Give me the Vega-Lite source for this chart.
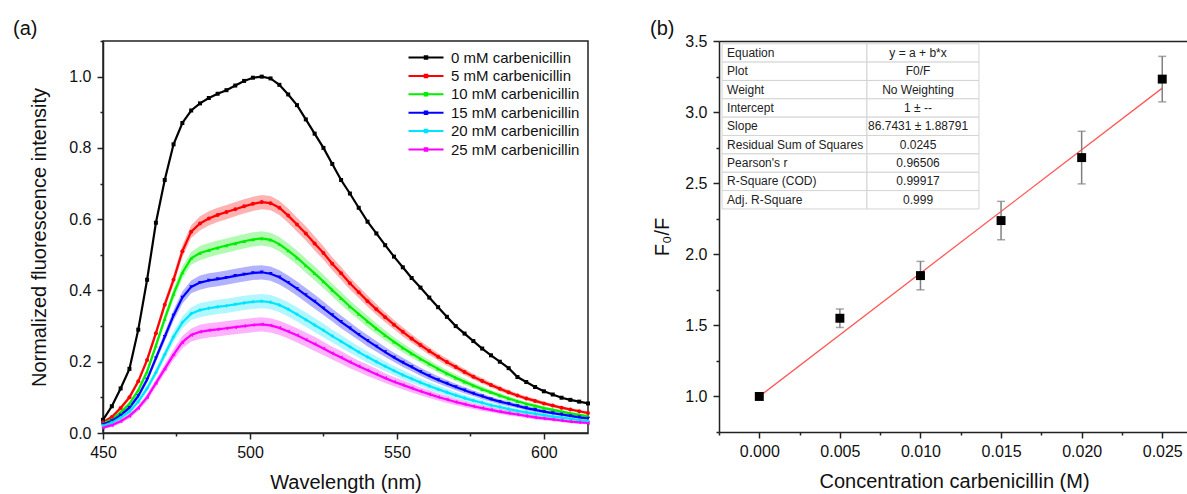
{
  "$schema": "https://vega.github.io/schema/vega-lite/v6.json",
  "padding": {"left": 12, "top": 18, "right": 0, "bottom": 0},
  "background": "white",
  "spacing": 56,
  "config": {
    "font": "Liberation Sans",
    "axis": {"domainColor": "#222", "domainWidth": 1.5, "tickColor": "#222", "tickWidth": 1.5, "labelFontSize": 16, "labelColor": "#111", "titleFontSize": 20, "titleFontWeight": "normal", "titleColor": "#111", "grid": false, "labelFlush": false, "labelOverlap": false, "labelPadding": 6},
    "title": {"fontSize": 20, "fontWeight": "normal", "color": "#111"}
  },
  "hconcat": [
    {
      "title": {"text": "(a)", "anchor": "start", "frame": "group", "dx": -90, "offset": -6},
      "width": 485,
      "height": 392,
      "view": {"stroke": "#222", "strokeWidth": 1.5},
      "data": {"values": [
        {"w":450,"a0":0.037,"a5":0.030,"a10":0.027,"a15":0.024,"a20":0.020,"a25":0.015,"e":0.004},
        {"w":453,"a0":0.075,"a5":0.045,"a10":0.038,"a15":0.034,"a20":0.029,"a25":0.022,"e":0.005},
        {"w":456,"a0":0.125,"a5":0.070,"a10":0.058,"a15":0.050,"a20":0.043,"a25":0.033,"e":0.006},
        {"w":459,"a0":0.180,"a5":0.100,"a10":0.082,"a15":0.071,"a20":0.060,"a25":0.048,"e":0.007},
        {"w":462,"a0":0.290,"a5":0.145,"a10":0.120,"a15":0.104,"a20":0.088,"a25":0.070,"e":0.008},
        {"w":465,"a0":0.430,"a5":0.205,"a10":0.172,"a15":0.150,"a20":0.125,"a25":0.100,"e":0.010},
        {"w":468,"a0":0.590,"a5":0.280,"a10":0.245,"a15":0.210,"a20":0.170,"a25":0.140,"e":0.011},
        {"w":471,"a0":0.710,"a5":0.360,"a10":0.320,"a15":0.270,"a20":0.220,"a25":0.180,"e":0.013},
        {"w":474,"a0":0.810,"a5":0.430,"a10":0.390,"a15":0.330,"a20":0.270,"a25":0.220,"e":0.015},
        {"w":477,"a0":0.870,"a5":0.510,"a10":0.450,"a15":0.380,"a20":0.310,"a25":0.255,"e":0.017},
        {"w":480,"a0":0.905,"a5":0.565,"a10":0.490,"a15":0.410,"a20":0.335,"a25":0.275,"e":0.018},
        {"w":483,"a0":0.925,"a5":0.588,"a10":0.505,"a15":0.422,"a20":0.345,"a25":0.284,"e":0.020},
        {"w":486,"a0":0.940,"a5":0.602,"a10":0.513,"a15":0.428,"a20":0.350,"a25":0.288,"e":0.020},
        {"w":489,"a0":0.952,"a5":0.612,"a10":0.520,"a15":0.432,"a20":0.354,"a25":0.291,"e":0.020},
        {"w":492,"a0":0.962,"a5":0.620,"a10":0.526,"a15":0.436,"a20":0.357,"a25":0.294,"e":0.020},
        {"w":495,"a0":0.975,"a5":0.628,"a10":0.532,"a15":0.441,"a20":0.361,"a25":0.297,"e":0.020},
        {"w":498,"a0":0.988,"a5":0.636,"a10":0.538,"a15":0.445,"a20":0.365,"a25":0.300,"e":0.020},
        {"w":501,"a0":0.997,"a5":0.643,"a10":0.543,"a15":0.449,"a20":0.368,"a25":0.303,"e":0.020},
        {"w":504,"a0":1.000,"a5":0.648,"a10":0.546,"a15":0.451,"a20":0.370,"a25":0.305,"e":0.020},
        {"w":507,"a0":0.995,"a5":0.645,"a10":0.542,"a15":0.447,"a20":0.367,"a25":0.302,"e":0.020},
        {"w":510,"a0":0.977,"a5":0.632,"a10":0.530,"a15":0.437,"a20":0.359,"a25":0.295,"e":0.020},
        {"w":513,"a0":0.950,"a5":0.610,"a10":0.512,"a15":0.422,"a20":0.347,"a25":0.285,"e":0.020},
        {"w":516,"a0":0.920,"a5":0.585,"a10":0.492,"a15":0.405,"a20":0.333,"a25":0.274,"e":0.020},
        {"w":519,"a0":0.880,"a5":0.560,"a10":0.470,"a15":0.387,"a20":0.318,"a25":0.262,"e":0.020},
        {"w":522,"a0":0.840,"a5":0.532,"a10":0.448,"a15":0.369,"a20":0.303,"a25":0.250,"e":0.020},
        {"w":525,"a0":0.800,"a5":0.505,"a10":0.425,"a15":0.350,"a20":0.288,"a25":0.237,"e":0.019},
        {"w":528,"a0":0.755,"a5":0.475,"a10":0.401,"a15":0.331,"a20":0.272,"a25":0.224,"e":0.018},
        {"w":531,"a0":0.710,"a5":0.448,"a10":0.378,"a15":0.312,"a20":0.257,"a25":0.212,"e":0.018},
        {"w":534,"a0":0.672,"a5":0.420,"a10":0.355,"a15":0.294,"a20":0.242,"a25":0.199,"e":0.017},
        {"w":537,"a0":0.632,"a5":0.395,"a10":0.334,"a15":0.276,"a20":0.227,"a25":0.187,"e":0.016},
        {"w":540,"a0":0.593,"a5":0.370,"a10":0.313,"a15":0.259,"a20":0.213,"a25":0.176,"e":0.016},
        {"w":543,"a0":0.560,"a5":0.347,"a10":0.293,"a15":0.243,"a20":0.200,"a25":0.165,"e":0.015},
        {"w":546,"a0":0.527,"a5":0.325,"a10":0.274,"a15":0.227,"a20":0.187,"a25":0.154,"e":0.014},
        {"w":549,"a0":0.495,"a5":0.304,"a10":0.256,"a15":0.212,"a20":0.175,"a25":0.144,"e":0.013},
        {"w":552,"a0":0.465,"a5":0.284,"a10":0.239,"a15":0.198,"a20":0.163,"a25":0.135,"e":0.013},
        {"w":555,"a0":0.435,"a5":0.265,"a10":0.223,"a15":0.185,"a20":0.152,"a25":0.126,"e":0.012},
        {"w":558,"a0":0.408,"a5":0.247,"a10":0.208,"a15":0.172,"a20":0.142,"a25":0.117,"e":0.011},
        {"w":561,"a0":0.380,"a5":0.230,"a10":0.194,"a15":0.160,"a20":0.132,"a25":0.109,"e":0.011},
        {"w":564,"a0":0.353,"a5":0.214,"a10":0.180,"a15":0.149,"a20":0.123,"a25":0.101,"e":0.010},
        {"w":567,"a0":0.326,"a5":0.199,"a10":0.167,"a15":0.139,"a20":0.114,"a25":0.094,"e":0.010},
        {"w":570,"a0":0.300,"a5":0.185,"a10":0.155,"a15":0.129,"a20":0.106,"a25":0.087,"e":0.009},
        {"w":573,"a0":0.279,"a5":0.171,"a10":0.144,"a15":0.120,"a20":0.098,"a25":0.081,"e":0.009},
        {"w":576,"a0":0.258,"a5":0.158,"a10":0.133,"a15":0.111,"a20":0.091,"a25":0.075,"e":0.008},
        {"w":579,"a0":0.237,"a5":0.146,"a10":0.123,"a15":0.103,"a20":0.085,"a25":0.070,"e":0.008},
        {"w":582,"a0":0.218,"a5":0.135,"a10":0.114,"a15":0.095,"a20":0.078,"a25":0.065,"e":0.007},
        {"w":585,"a0":0.200,"a5":0.124,"a10":0.105,"a15":0.088,"a20":0.073,"a25":0.060,"e":0.007},
        {"w":588,"a0":0.182,"a5":0.114,"a10":0.097,"a15":0.082,"a20":0.067,"a25":0.056,"e":0.007},
        {"w":591,"a0":0.157,"a5":0.105,"a10":0.089,"a15":0.076,"a20":0.062,"a25":0.052,"e":0.006},
        {"w":594,"a0":0.143,"a5":0.097,"a10":0.082,"a15":0.070,"a20":0.058,"a25":0.048,"e":0.006},
        {"w":597,"a0":0.129,"a5":0.090,"a10":0.076,"a15":0.065,"a20":0.054,"a25":0.044,"e":0.006},
        {"w":600,"a0":0.117,"a5":0.083,"a10":0.070,"a15":0.060,"a20":0.050,"a25":0.041,"e":0.005},
        {"w":603,"a0":0.108,"a5":0.077,"a10":0.065,"a15":0.056,"a20":0.046,"a25":0.038,"e":0.005},
        {"w":606,"a0":0.099,"a5":0.071,"a10":0.060,"a15":0.052,"a20":0.043,"a25":0.035,"e":0.005},
        {"w":609,"a0":0.093,"a5":0.066,"a10":0.055,"a15":0.048,"a20":0.040,"a25":0.032,"e":0.004},
        {"w":612,"a0":0.088,"a5":0.061,"a10":0.051,"a15":0.044,"a20":0.036,"a25":0.030,"e":0.004},
        {"w":615,"a0":0.083,"a5":0.056,"a10":0.047,"a15":0.041,"a20":0.034,"a25":0.028,"e":0.004}
      ]},
      "transform": [{"fold": ["a0", "a5", "a10", "a15", "a20", "a25"], "as": ["key", "v"]}],
      "encoding": {
        "x": {"field": "w", "type": "quantitative",
          "scale": {"domain": [450, 615], "nice": false, "zero": false},
          "axis": {"title": "Wavelength (nm)", "values": [450, 475, 500, 525, 550, 575, 600],
            "labelExpr": "datum.value % 50 == 0 ? datum.label : ''",
            "tickSize": {"condition": {"test": "datum.value % 50 == 0", "value": 6}, "value": 3},
            "labelPadding": 5, "titlePadding": 12}},
        "y": {"field": "v", "type": "quantitative",
          "scale": {"domain": [0, 1.1], "nice": false},
          "axis": {"title": "Normalized fluorescence intensity", "values": [0, 0.1, 0.2, 0.3, 0.4, 0.5, 0.6, 0.7, 0.8, 0.9, 1.0, 1.1],
            "labelExpr": "round(datum.value*10) % 2 == 0 ? format(datum.value, '.1f') : ''",
            "tickSize": {"condition": {"test": "round(datum.value*10) % 2 == 0", "value": 6}, "value": 3},
            "titlePadding": 19}}
      },
      "layer": [
        {"transform": [{"filter": "datum.key != 'a0'"}],
         "mark": {"type": "errorband", "opacity": 0.3},
         "encoding": {"yError": {"field": "e"},
           "fill": {"field": "key", "type": "nominal", "legend": null,
             "scale": {"domain": ["a25", "a20", "a15", "a10", "a5", "a0"], "range": ["#ff00ff", "#00e5ff", "#0000ff", "#00ee00", "#ff0000", "#000000"]}}}},
        {"mark": {"type": "line", "strokeWidth": 2.2},
         "encoding": {
           "color": {"field": "key", "type": "nominal",
             "scale": {"domain": ["a0", "a5", "a10", "a15", "a20", "a25"], "range": ["#000000", "#ff0000", "#00ee00", "#0000ff", "#00e5ff", "#ff00ff"]},
             "legend": {"title": null, "orient": "none", "legendX": 303, "legendY": 9, "padding": 0,
               "symbolType": "M-1,0H6M2.25,-0.25H2.75V0.25H2.25Z", "symbolSize": 100, "symbolStrokeWidth": 2,
               "labelFontSize": 15, "labelColor": "#111", "labelOffset": 30, "rowPadding": 2.4,
               "labelExpr": "slice(datum.label, 1) + ' mM carbenicillin'"}}}},
        {"mark": {"type": "point", "filled": true, "size": 16, "opacity": 1, "strokeWidth": 0},
         "encoding": {
           "fill": {"field": "key", "type": "nominal", "legend": null},
           "shape": {"field": "key", "type": "nominal", "legend": null,
             "scale": {"domain": ["a25", "a20", "a15", "a10", "a5", "a0"], "range": ["triangle-left", "diamond", "triangle-down", "triangle-up", "circle", "square"]}}}}
      ]
    },
    {
      "title": {"text": "(b)", "anchor": "start", "frame": "group", "dx": -69, "offset": -6},
      "width": 470,
      "height": 391,
      "view": {"stroke": null},
      "layer": [
        {
          "encoding": {
            "x": {"field": "c", "type": "quantitative",
              "scale": {"domain": [-0.0025, 0.02666], "nice": false, "zero": false},
              "axis": {"title": "Concentration carbenicillin (M)",
                "values": [-0.0025, 0, 0.0025, 0.005, 0.0075, 0.01, 0.0125, 0.015, 0.0175, 0.02, 0.0225, 0.025],
                "labelExpr": "round(datum.value*400) % 2 == 0 ? format(datum.value, '.3f') : ''",
                "tickSize": {"condition": {"test": "round(datum.value*400) % 2 == 0", "value": 6}, "value": 3},
                "labelPadding": 5, "titlePadding": 12}},
            "y": {"field": "f", "type": "quantitative",
              "scale": {"domain": [0.75, 3.5], "nice": false, "zero": false},
              "axis": {"title": "F₀/F",
                "values": [0.75, 1, 1.25, 1.5, 1.75, 2, 2.25, 2.5, 2.75, 3, 3.25, 3.5],
                "labelExpr": "round(datum.value*4) % 2 == 0 ? format(datum.value, '.1f') : ''",
                "tickSize": {"condition": {"test": "round(datum.value*4) % 2 == 0", "value": 6}, "value": 3},
                "titlePadding": 12}}
          },
          "layer": [
            {"data": {"values": [{"c": 0, "f": 1}, {"c": 0.025, "f": 3.1686}]},
             "mark": {"type": "line", "color": "#ff5a5a", "strokeWidth": 1.3}},
            {"data": {"values": [
               {"c": 0, "f": 1.0, "err": 0},
               {"c": 0.005, "f": 1.55, "err": 0.065},
               {"c": 0.01, "f": 1.85, "err": 0.1},
               {"c": 0.015, "f": 2.237, "err": 0.135},
               {"c": 0.02, "f": 2.68, "err": 0.185},
               {"c": 0.025, "f": 3.232, "err": 0.16}
             ]},
             "layer": [
               {"mark": {"type": "errorbar", "color": "#808080", "thickness": 1.5, "size": 8, "ticks": true},
                "encoding": {"yError": {"field": "err"}}},
               {"mark": {"type": "point", "shape": "square", "filled": true, "color": "#000", "size": 80, "opacity": 1}}
             ]}
          ]
        },
        {
          "data": {"values": [
            {"row": 0, "k": "Equation", "val": "y = a + b*x"},
            {"row": 1, "k": "Plot", "val": "F0/F"},
            {"row": 2, "k": "Weight", "val": "No Weighting"},
            {"row": 3, "k": "Intercept", "val": "1 ± --"},
            {"row": 4, "k": "Slope", "val": "86.7431 ± 1.88791"},
            {"row": 5, "k": "Residual Sum of Squares", "val": "0.0245"},
            {"row": 6, "k": "Pearson's r", "val": "0.96506"},
            {"row": 7, "k": "R-Square (COD)", "val": "0.99917"},
            {"row": 8, "k": "Adj. R-Square", "val": "0.999"}
          ]},
          "encoding": {
            "y": {"field": "row", "type": "ordinal", "axis": null,
              "scale": {"domain": [0,1,2,3,4,5,6,7,8,9,10,11,12,13,14,15,16,17,18,19,20], "paddingInner": 0, "paddingOuter": 0.15}}
          },
          "layer": [
            {"mark": {"type": "rect", "fill": "white", "stroke": "#d4d4d4", "strokeWidth": 1},
             "encoding": {
               "x": {"datum": -0.00231, "type": "quantitative",
                 "scale": {"domain": [-0.0025, 0.02666], "nice": false, "zero": false},
                 "axis": {"orient": "top", "labels": false, "ticks": false, "title": null, "domain": true, "values": []}},
               "x2": {"datum": 0.00668}}},
            {"mark": {"type": "rect", "fill": "white", "stroke": "#d4d4d4", "strokeWidth": 1},
             "encoding": {"x": {"datum": 0.00668, "type": "quantitative"}, "x2": {"datum": 0.01363}}},
            {"mark": {"type": "text", "align": "left", "fontSize": 12, "color": "#222"},
             "encoding": {"x": {"datum": -0.0020, "type": "quantitative"}, "text": {"field": "k"}}},
            {"mark": {"type": "text", "align": "center", "fontSize": 12, "color": "#222"},
             "encoding": {"x": {"datum": 0.00985, "type": "quantitative"}, "text": {"field": "val"}}}
          ]
        }
      ],
      "resolve": {"scale": {"x": "independent", "y": "independent"}}
    }
  ]
}
